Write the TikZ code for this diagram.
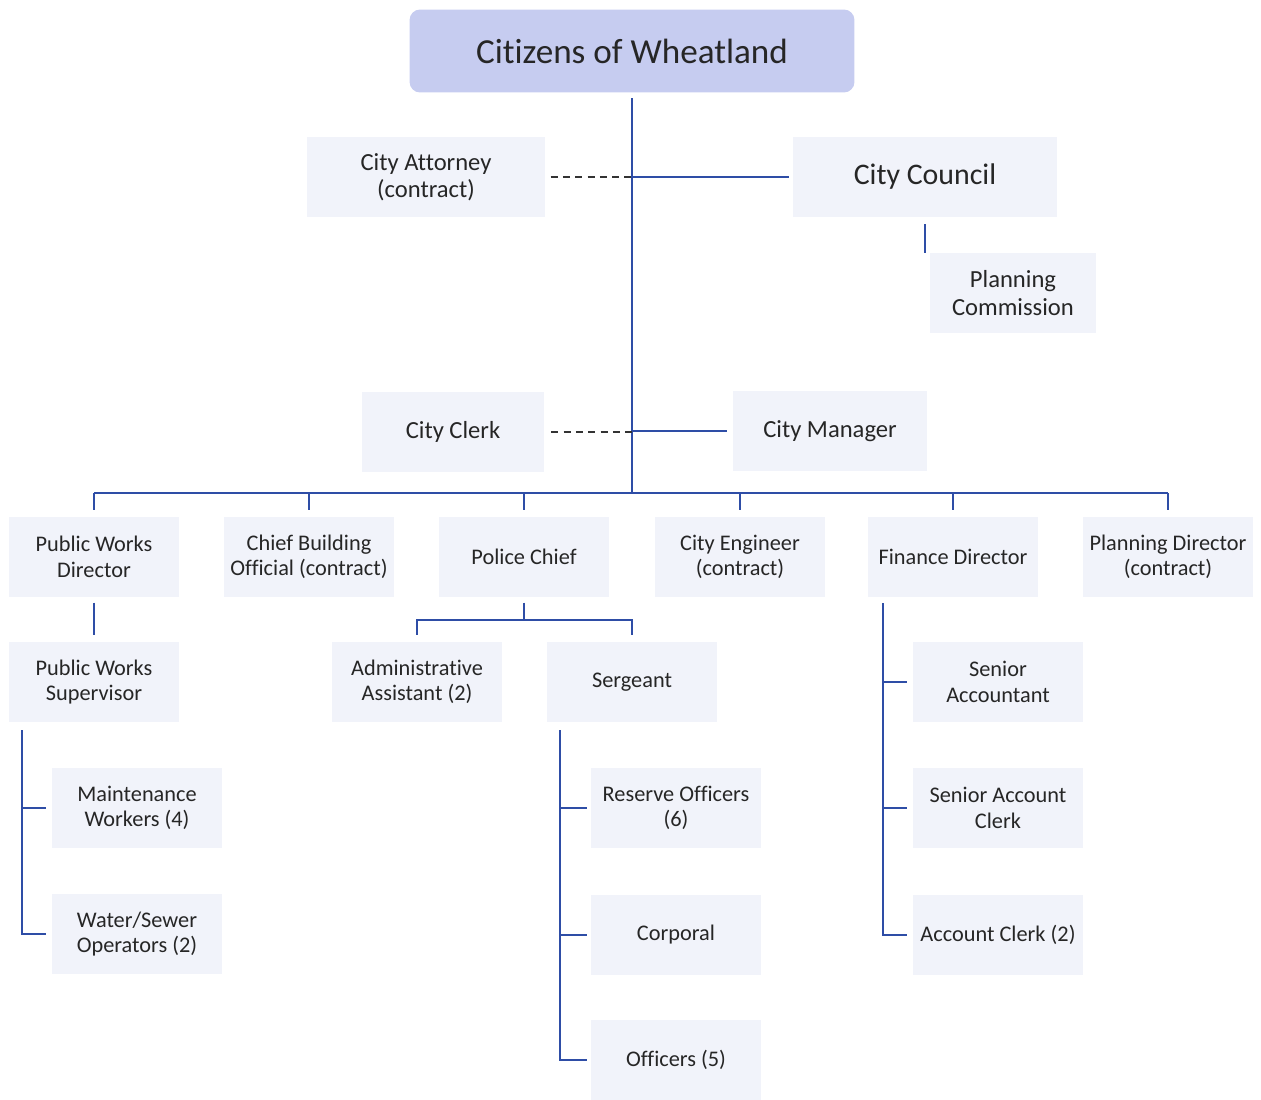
\documentclass[tikz,border=0pt]{standalone}
\usepackage{fontspec}
\setmainfont{Carlito}[RawFeature={-liga;-clig;-calt;-dlig;-rlig}]
\usetikzlibrary{positioning,calc}
\definecolor{boxfill}{RGB}{241,243,250}
\definecolor{topfill}{RGB}{198,204,240}
\definecolor{linkblue}{RGB}{46,77,166}
\tikzset{%
    office/.style   = {fill=boxfill, align=center, text=black!85, inner sep=2pt},
    unit/.style     = {office, minimum width=3.4cm, minimum height=1.6cm,
        font=\fontsize{12.7}{14.5}\selectfont},
    staff/.style    = {office, minimum height=1.6cm, font=\fontsize{14}{15.6}\selectfont},
    link/.style     = {draw=linkblue, line width=1.25pt},
    dotlink/.style  = {draw=black!80, line width=1pt, dash pattern=on 4pt off 3pt},
}

\begin{document}
\begin{tikzpicture}[x=0.02cm, y=-0.02cm]
    \useasboundingbox (0,0) rectangle (1261,1099);
    % We start by placing the blocks
    \node [fill=topfill, rounded corners=6pt, minimum width=8.9cm, minimum height=1.66cm,
        text=black!85, font=\fontsize{20}{24}\selectfont] (citizens) at (632,51) {Citizens of Wheatland};

    \node [staff, minimum width=4.76cm] (attorney) at (426,177) {City Attorney\\(contract)};
    \node [staff, minimum width=5.3cm, font=\fontsize{17}{19}\selectfont] (council) at (925,177) {City Council};
    \node [staff, minimum width=3.34cm] (commission) at (1013,293) {Planning\\Commission};
    \node [staff, minimum width=3.64cm] (clerk) at (453,432) {City Clerk};
    \node [staff, minimum width=3.9cm] (manager) at (830,431) {City Manager};

    % department heads
    \node [unit] (pw_dir) at (94,557) {Public Works\\Director};
    \node [unit] (cbo) at (309,557) {Chief Building\\Official (contract)};
    \node [unit] (police) at (524,557) {Police Chief};
    \node [unit] (engineer) at (740,557) {City Engineer\\(contract)};
    \node [unit] (finance) at (953,557) {Finance Director};
    \node [unit] (plan_dir) at (1168,557) {Planning Director\\(contract)};

    % staff below
    \node [unit] (pw_sup) at (94,682) {Public Works\\Supervisor};
    \node [unit] (maint) at (137,808) {Maintenance\\Workers (4)};
    \node [unit] (water) at (137,934) {Water/Sewer\\Operators (2)};
    \node [unit] (admin) at (417,682) {Administrative\\Assistant (2)};
    \node [unit] (sergeant) at (632,682) {Sergeant};
    \node [unit] (reserve) at (676,808) {Reserve Officers\\(6)};
    \node [unit] (corporal) at (676,935) {Corporal};
    \node [unit] (officers) at (676,1060) {Officers (5)};
    \node [unit] (sen_acct) at (998,682) {Senior\\Accountant};
    \node [unit] (sen_clerk) at (998,808) {Senior Account\\Clerk};
    \node [unit] (acct_clerk) at (998,935) {Account Clerk (2)};

    \coordinate (hub) at (632,493);
    \coordinate (police_bus) at (524,620);
    \coordinate (pw_rail) at (22,730);
    \coordinate (sgt_rail) at (560,730);
    \coordinate (fin_rail) at (883,603);

    % Once the nodes are placed, connecting them is easy.
    \draw [link] ([yshift=-3pt]citizens.south) -- (hub);
    \draw [link] (hub |- council.west) -- ([xshift=-2pt]council.west);
    \draw [dotlink] ([xshift=3pt]attorney.east) -- (hub |- attorney.east);
    \draw [link] (hub |- manager.west) -- ([xshift=-3pt]manager.west);
    \draw [dotlink] ([xshift=4pt]clerk.east) -- (hub |- clerk.east);
    \draw [link] ([yshift=-4pt]council.south) -- (council.south |- commission.north);

    \draw [link] (pw_dir.north |- hub) -- (plan_dir.north |- hub);
    \foreach \n in {pw_dir,cbo,police,engineer,finance,plan_dir}{
        \draw [link] (\n.north |- hub) -- ([yshift=4pt]\n.north);
    }
    \draw [link] ([yshift=-3pt]pw_dir.south) -- ([yshift=4pt]pw_sup.north);

    \draw [link] ([yshift=-3pt]police.south) -- (police_bus);
    \draw [link] ([yshift=4pt]admin.north) -- (admin.north |- police_bus)
        -- (sergeant.north |- police_bus) -- ([yshift=4pt]sergeant.north);

    \draw [link] (pw_rail) |- ([xshift=-3pt]water.west);
    \draw [link] (pw_rail |- maint.west) -- ([xshift=-3pt]maint.west);

    \draw [link] (sgt_rail) |- ([xshift=-2pt]officers.west);
    \foreach \n in {reserve,corporal}{
        \draw [link] (sgt_rail |- \n.west) -- ([xshift=-2pt]\n.west);
    }

    \draw [link] (fin_rail) |- ([xshift=-3pt]acct_clerk.west);
    \foreach \n in {sen_acct,sen_clerk}{
        \draw [link] (fin_rail |- \n.west) -- ([xshift=-3pt]\n.west);
    }

\end{tikzpicture}
\end{document}
